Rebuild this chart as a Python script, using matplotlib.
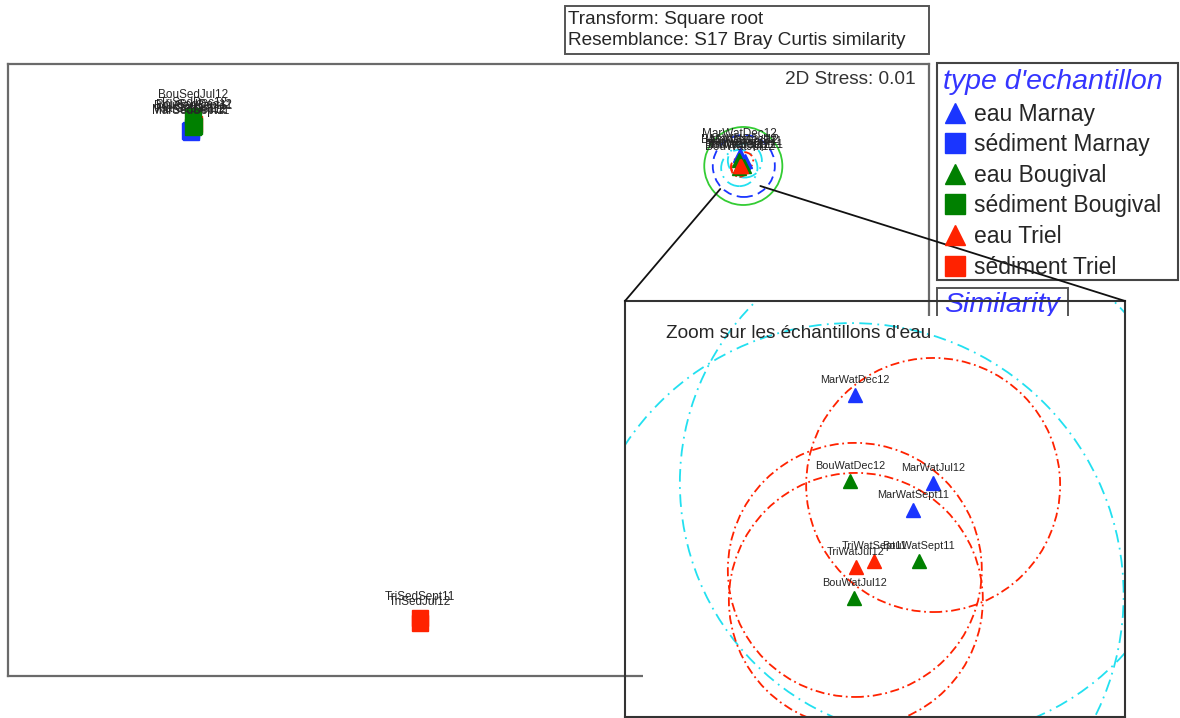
import matplotlib

matplotlib.use("Agg")
import matplotlib.pyplot as plt
from matplotlib.lines import Line2D
from matplotlib.patches import Circle, Rectangle, ConnectionPatch

plt.rcParams["font.family"] = ["Liberation Sans", "DejaVu Sans"]

W, H = 1180, 718

BLUE = "#1a35ff"
GREEN = "#008000"
RED = "#ff2200"
CYAN = "#22e0f0"
LIGHT_GREEN = "#33cc33"
TITLE_BLUE = "#3535ff"
TEXT = "#262626"

# groups (factor "type d'echantillon")
GROUPS = ["eau Marnay", "sédiment Marnay", "eau Bougival",
          "sédiment Bougival", "eau Triel", "sédiment Triel"]
GROUP_MARKERS = ["^", "s", "^", "s", "^", "s"]
GROUP_COLORS = [BLUE, BLUE, GREEN, GREEN, RED, RED]
GROUP_Z = [3, 4, 4, 5, 5, 3]

# nMDS coordinates (arbitrary units)
SAMPLES = ["MarWatDec12", "MarWatJul12", "MarWatSept11",
           "MarSedJul12", "MarSedDec12", "MarSedSept11",
           "BouWatDec12", "BouWatSept11", "BouWatJul12",
           "BouSedJul12", "BouSedDec12", "BouSedSept11",
           "TriWatSept11", "TriWatJul12",
           "TriSedDec12", "TriSedSept11", "TriSedJul12"]
SAMPLE_GROUP = [0, 0, 0,
                1, 1, 1,
                2, 2, 2,
                3, 3, 3,
                4, 4,
                5, 5, 5]
SAMPLE_X = [1.1770, 1.1997, 1.1939,
            -1.2065, -1.2109, -1.2065,
            1.1756, 1.1956, 1.1768,
            -1.1978, -1.1935, -1.1978,
            1.1826, 1.1773,
            -1.1935, -0.2109, -0.2109]
SAMPLE_Y = [0.9361, 0.9106, 0.9028,
            1.0435, 1.0391, 1.0348,
            0.9112, 0.8880, 0.8772,
            1.1043, 1.0609, 1.0565,
            0.8880, 0.8862,
            1.0696, -1.0783, -1.1000]

# similarity contours around the water samples
CIRCLE_X = [1.1935, 1.1957, 1.1761, 1.2002, 1.1997, 1.1770, 1.1773]
CIRCLE_Y = [0.8870, 0.8870, 0.8781, 0.9106, 0.9100, 0.8854, 0.8767]
CIRCLE_R = [0.1696, 0.1348, 0.0788, 0.0739, 0.0368, 0.0368, 0.0368]
CIRCLE_COLORS = [LIGHT_GREEN, BLUE, CYAN, CYAN, RED, RED, RED]
CIRCLE_STYLES = ["-", (0, (5, 3)), (0, (7, 3, 1, 3)), (0, (7, 3, 1, 3)),
                 (0, (5, 2, 1, 2)), (0, (5, 2, 1, 2)), (0, (5, 2, 1, 2))]

MAIN_XLIM = (-2.0, 2.0)
MAIN_YLIM = (-1.3304, 1.3304)
ZOOM_XLIM = (1.1104, 1.2553)
ZOOM_YLIM = (0.8428, 0.9633)
ZOOM_ANCHOR_X = [1.0935, 1.2674]
ZOOM_ANCHOR_Y = [0.7870, 0.8000]


def fig_rect(x0, y0, x1, y1):
    """pixel box (top-left origin) -> figure fraction [l, b, w, h]"""
    return [x0 / W, 1 - y1 / H, (x1 - x0) / W, (y1 - y0) / H]


def draw_samples(ax, ms_tri, ms_sq, label_size, label_offset):
    for cx, cy, r, c, ls in zip(CIRCLE_X, CIRCLE_Y, CIRCLE_R, CIRCLE_COLORS, CIRCLE_STYLES):
        ax.add_patch(Circle((cx, cy), r, fill=False, edgecolor=c, linestyle=ls,
                            linewidth=1.3, zorder=2))
    for gi, (m, c, z) in enumerate(zip(GROUP_MARKERS, GROUP_COLORS, GROUP_Z)):
        idx = [i for i, g in enumerate(SAMPLE_GROUP) if g == gi]
        xs = [SAMPLE_X[i] for i in idx]
        ys = [SAMPLE_Y[i] for i in idx]
        ms = ms_tri if m == "^" else ms_sq
        ax.plot(xs, ys, ls="none", marker=m, ms=ms, color=c, mec=c, zorder=z)
    for name, x, y in zip(SAMPLES, SAMPLE_X, SAMPLE_Y):
        ax.annotate(name, (x, y), xytext=(0, label_offset), textcoords="offset points",
                    ha="center", va="center", fontsize=label_size, color=TEXT, zorder=8,
                    annotation_clip=True)


fig = plt.figure(figsize=(W / 100, H / 100), dpi=100)

# main nMDS plot
ax = fig.add_axes(fig_rect(8, 64, 929, 676), zorder=0)
ax.set_xlim(*MAIN_XLIM)
ax.set_ylim(*MAIN_YLIM)
ax.set_xticks([])
ax.set_yticks([])
for s in ax.spines.values():
    s.set_color("#6a6a6a")
    s.set_linewidth(1.6)
draw_samples(ax, ms_tri=10, ms_sq=12, label_size=8.5, label_offset=15)
ax.text(0.986, 0.974, "2D Stress: 0.01", transform=ax.transAxes, ha="right", va="center",
        fontsize=13.7, color="#333333")

# header box
fig.add_artist(Rectangle((565 / W, 1 - 54 / H), 364 / W, 48 / H, transform=fig.transFigure,
                         fill=False, edgecolor="#555555", linewidth=1.4))
fig.text(568 / W, 1 - 30 / H, "Transform: Square root\nResemblance: S17 Bray Curtis similarity",
         ha="left", va="center", fontsize=13.7, color=TEXT, linespacing=1.25)

# legend (frame drawn separately so the box keeps its wider right margin)
handles = [Line2D([], [], ls="none", marker=m, color=c, ms=14)
           for m, c in zip(GROUP_MARKERS, GROUP_COLORS)]
leg = fig.legend(handles, GROUPS, loc="upper left", bbox_to_anchor=(934 / W, 1 - 60 / H),
                 bbox_transform=fig.transFigure, title="type d'echantillon",
                 title_fontproperties={"style": "italic", "size": 20.5},
                 fontsize=16.5, frameon=False,
                 borderaxespad=0, borderpad=0.4, labelspacing=0.33, handlelength=0.9,
                 handletextpad=0.35)
leg.get_title().set_color(TITLE_BLUE)
for t in leg.get_texts():
    t.set_color(TEXT)
fig.add_artist(Rectangle((937 / W, 1 - 280 / H), 241 / W, 217 / H, transform=fig.transFigure,
                         fill=False, edgecolor="#444444", linewidth=1.5))

# similarity legend (partly hidden behind the zoom)
fig.add_artist(Rectangle((937 / W, 1 - 340 / H), 131 / W, 52 / H, transform=fig.transFigure,
                         fill=False, edgecolor="#555555", linewidth=1.4, zorder=1))
fig.text(944 / W, 1 - 305 / H, "Similarity", ha="left", va="center", fontsize=20.5,
         style="italic", color=TITLE_BLUE, zorder=1)

# white backing for the zoom window
fig.add_artist(Rectangle((643 / W, 1 - 717 / H), 481 / W, 401 / H, transform=fig.transFigure,
                         facecolor="white", edgecolor="none", zorder=2))

# zoom window on the water samples
axin = fig.add_axes(fig_rect(625, 301, 1125, 717), zorder=3)
axin.patch.set_alpha(0)
axin.set_xlim(*ZOOM_XLIM)
axin.set_ylim(*ZOOM_YLIM)
axin.set_xticks([])
axin.set_yticks([])
for s in axin.spines.values():
    s.set_color("#333333")
    s.set_linewidth(1.5)
draw_samples(axin, ms_tri=10, ms_sq=12, label_size=7.8, label_offset=11)
axin.text(0.082, 0.923, "Zoom sur les échantillons d'eau", transform=axin.transAxes,
          ha="left", va="center", fontsize=13.7, color=TEXT)

for ax_x, ax_y, corner in zip(ZOOM_ANCHOR_X, ZOOM_ANCHOR_Y, [(0, 1), (1, 1)]):
    con = ConnectionPatch(xyA=(ax_x, ax_y), coordsA=ax.transData, xyB=corner,
                          coordsB=axin.transAxes, color="#111111", linewidth=1.3, zorder=4)
    fig.add_artist(con)

fig.savefig("out.png", dpi=100)
